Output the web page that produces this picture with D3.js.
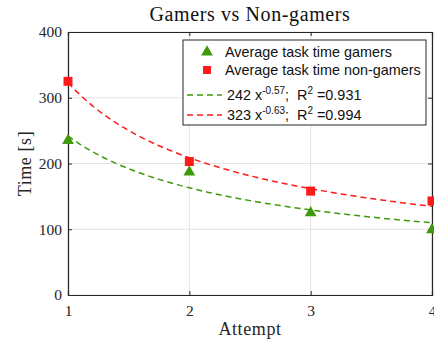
<!DOCTYPE html>
<html>
<head>
<meta charset="utf-8">
<script src="https://cdn.jsdelivr.net/npm/d3@7"></script>
<style>
body { margin: 0; background: #fff; }
</style>
</head>
<body>
<div id="chart"></div>
<script>
const width = 434
const height = 343
const margin = { top: 32, right: 2, bottom: 48, left: 68 }

// data
const attempts = [1, 2, 3, 4]
const gamers = [235, 187, 125, 99]
const nonGamers = [325, 203, 158, 143]
// power-law fits given in the legend: a * x^b
const fitA = [242, 323]
const fitB = [-0.57, -0.63]
const fitR2 = ["0.931", "0.994"]
const xTicks = [1, 2, 3, 4]
const yTicks = [0, 100, 200, 300, 400]

const green = "#3f9a0b"
const red = "#ff1a1a"
const axisColor = "#262626"
const serif = "'Liberation Serif', 'DejaVu Serif', serif"
const sans = "'Liberation Sans', Arial, sans-serif"

const svg = d3.select("div#chart").append("svg").attr("width", width).attr("height", height)

const innerW = width - margin.left - margin.right
const innerH = height - margin.top - margin.bottom

const x = d3.scaleLinear().domain([1, 4]).range([0, innerW])
const y = d3.scaleLinear().domain([0, 400]).range([innerH, 0])

const g = svg.append("g").attr("transform", `translate(${margin.left}, ${margin.top})`)

// grid
g.append("g").selectAll("line").data(xTicks).enter().append("line")
    .attr("x1", d => x(d)).attr("x2", d => x(d)).attr("y1", 0).attr("y2", innerH)
    .attr("stroke", "#e3e3e3").attr("stroke-width", 1)
g.append("g").selectAll("line").data(yTicks).enter().append("line")
    .attr("x1", 0).attr("x2", innerW).attr("y1", d => y(d)).attr("y2", d => y(d))
    .attr("stroke", "#e3e3e3").attr("stroke-width", 1)

// axes with inward ticks
const xAxis = d3.axisBottom(x).tickValues(xTicks).tickSize(-4).tickPadding(10).tickFormat(d3.format("d"))
const yAxis = d3.axisLeft(y).tickValues(yTicks).tickSize(-4).tickPadding(6)
const xTop = d3.axisTop(x).tickValues(xTicks).tickSize(-4).tickFormat("")
const yRight = d3.axisRight(y).tickValues(yTicks).tickSize(-4).tickFormat("")

const styleAxis = sel => {
    sel.selectAll("path").attr("stroke", axisColor)
    sel.selectAll("line").attr("stroke", axisColor)
    sel.selectAll("text").attr("fill", axisColor).style("font-family", serif).style("font-size", "15.5px")
}
g.append("g").attr("transform", `translate(0, ${innerH})`).call(xAxis).call(styleAxis)
g.append("g").call(yAxis).call(styleAxis)
g.append("g").call(xTop).call(styleAxis)
g.append("g").attr("transform", `translate(${innerW}, 0)`).call(yRight).call(styleAxis)
g.selectAll(".domain").attr("stroke-width", 1.2)

// fit curves
const fitX = d3.range(1, 4.001, 0.05)
const line = d3.line().x(d => x(d[0])).y(d => y(d[1]))
const fitColors = [green, red]
fitA.forEach((a, i) => {
    g.append("path")
        .attr("d", line(fitX.map(v => [v, a * Math.pow(v, fitB[i])])))
        .attr("fill", "none").attr("stroke", fitColors[i])
        .attr("stroke-width", 1.5).attr("stroke-dasharray", "6,4")
})

// markers
const tri = d3.symbol().type(d3.symbolTriangle).size(60)
g.append("g").selectAll("path").data(attempts).enter().append("path")
    .attr("d", tri)
    .attr("transform", (d, i) => `translate(${x(d)}, ${y(gamers[i])})`)
    .attr("fill", green)
g.append("g").selectAll("rect").data(attempts).enter().append("rect")
    .attr("x", d => x(d) - 4.5).attr("y", (d, i) => y(nonGamers[i]) - 4.5)
    .attr("width", 9).attr("height", 9).attr("fill", red)

// title and axis labels
svg.append("text").attr("x", margin.left + innerW / 2).attr("y", 21)
    .attr("text-anchor", "middle").style("font-family", serif).style("font-size", "20px")
    .style("letter-spacing", "0.6px")
    .attr("fill", "#111").text("Gamers vs Non-gamers")
svg.append("text").attr("x", margin.left + innerW / 2).attr("y", 335)
    .attr("text-anchor", "middle").style("font-family", serif).style("font-size", "18px")
    .style("letter-spacing", "0.6px")
    .attr("fill", axisColor).text("Attempt")
svg.append("text").attr("transform", `translate(31, ${margin.top + innerH / 2}) rotate(-90)`)
    .attr("text-anchor", "middle").style("font-family", serif).style("font-size", "18px")
    .style("letter-spacing", "0.6px")
    .attr("fill", axisColor).text("Time [s]")

// legend
const leg = svg.append("g").attr("transform", "translate(183, 40)")
leg.append("rect").attr("width", 243).attr("height", 85)
    .attr("fill", "#fff").attr("stroke", axisColor).attr("stroke-width", 1)
leg.append("path").attr("d", tri).attr("transform", "translate(24, 12)").attr("fill", green)
leg.append("rect").attr("x", 20).attr("y", 26).attr("width", 8).attr("height", 8).attr("fill", red)
const legText = ["Average task time gamers", "Average task time non-gamers"]
legText.forEach((t, i) => {
    leg.append("text").attr("x", 42).attr("y", 17 + i * 18)
        .style("font-family", sans).style("font-size", "14.4px").attr("fill", "#111").text(t)
})
fitA.forEach((a, i) => {
    const yy = 55 + i * 20
    leg.append("line").attr("x1", 4).attr("x2", 39).attr("y1", yy).attr("y2", yy)
        .attr("stroke", fitColors[i]).attr("stroke-width", 1.5).attr("stroke-dasharray", "6,4")
    const t = leg.append("text").attr("x", 44).attr("y", yy + 5)
        .style("font-family", sans).style("font-size", "14.4px").attr("fill", "#111")
    t.append("tspan").text(`${a} x`)
    t.append("tspan").attr("dy", -6).style("font-size", "10px").text(fitB[i].toFixed(2))
    t.append("tspan").attr("dy", 6).text(";\u00a0 R")
    t.append("tspan").attr("dy", -6).style("font-size", "10px").text("2")
    t.append("tspan").attr("dy", 6).text(` =${fitR2[i]}`)
})
</script>
</body>
</html>
